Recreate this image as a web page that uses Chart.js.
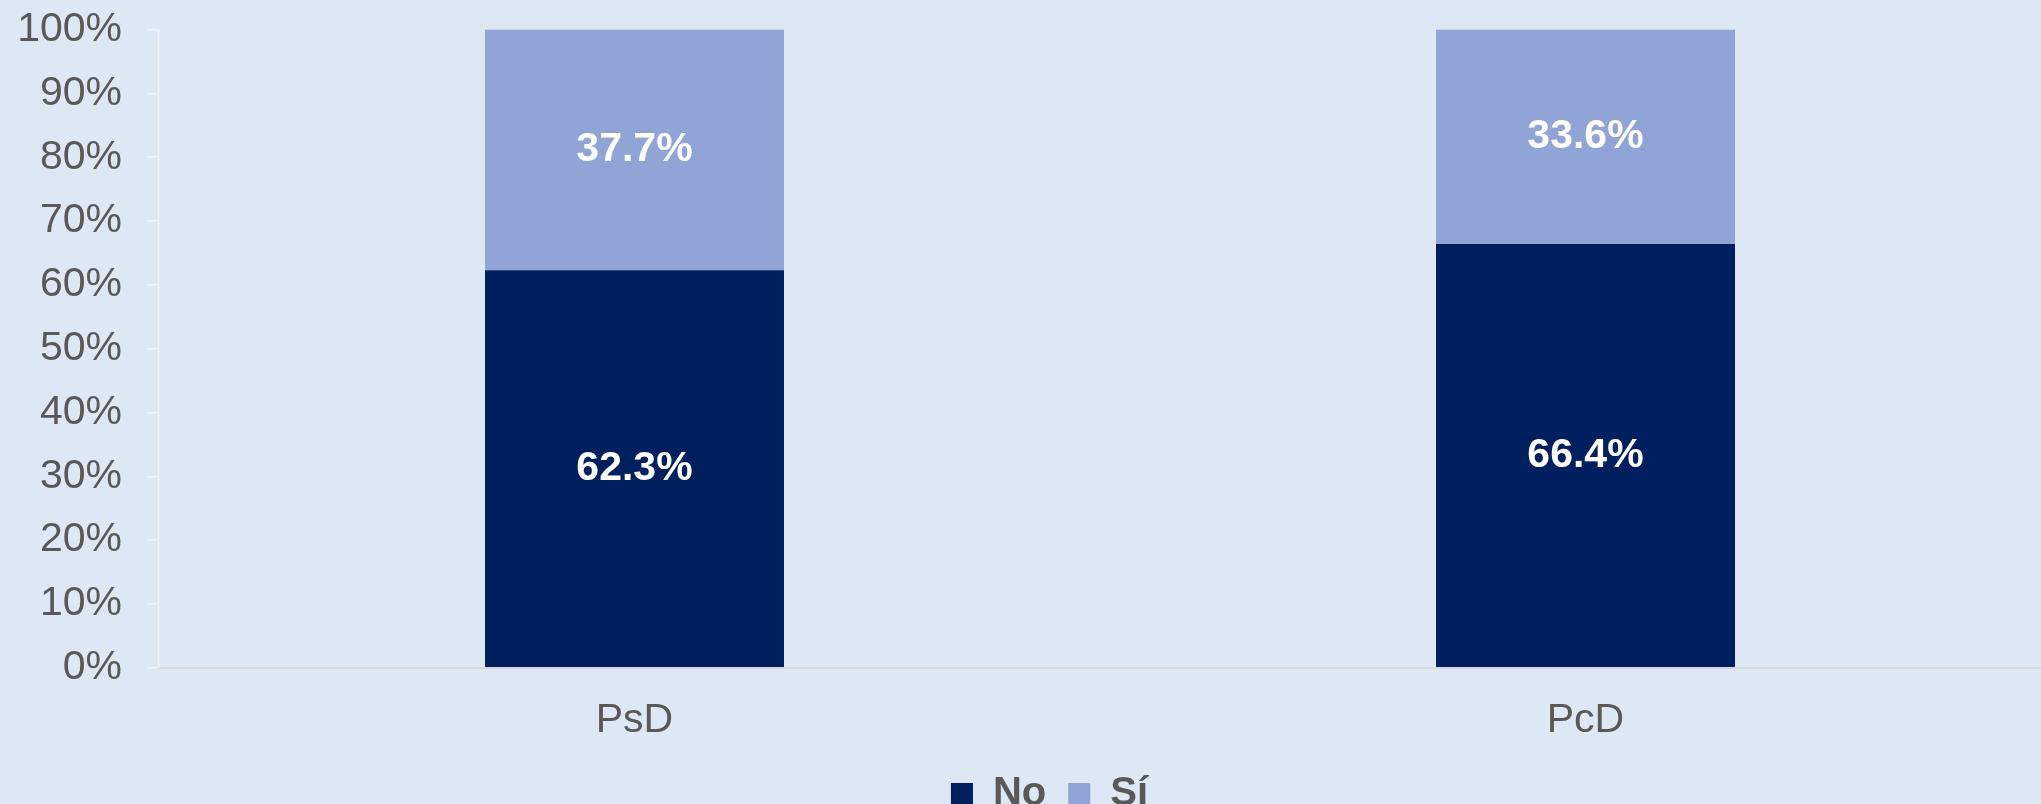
<!DOCTYPE html>
<html lang="es">
<head>
<meta charset="utf-8">
<title>PsD / PcD</title>
<script src="https://cdn.jsdelivr.net/npm/chart.js@4"></script>
<style>
  html, body { margin: 0; padding: 0; background: #dde8f4; overflow: hidden; }
  #wrap { position: relative; width: 2061px; height: 844px; margin-top: -20px; }
</style>
</head>
<body>
<div id="wrap"><canvas id="chart"></canvas></div>
<script>
const categories = ["PsD", "PcD"];
const seriesNo = [62.3, 66.4];
const seriesSi = [37.7, 33.6];
const yTicks = [0, 10, 20, 30, 40, 50, 60, 70, 80, 90, 100];

const FONT = "'Liberation Sans', Arial, sans-serif";

// writes the percentage in the middle of each stacked segment
const segmentLabels = {
  id: "segmentLabels",
  afterDatasetsDraw(chart) {
    const ctx = chart.ctx;
    ctx.save();
    ctx.fillStyle = "#ffffff";
    ctx.font = "bold 41px " + FONT;
    ctx.textAlign = "center";
    ctx.textBaseline = "middle";
    chart.data.datasets.forEach((ds, i) => {
      chart.getDatasetMeta(i).data.forEach((bar, j) => {
        const y = (bar.y + bar.base) / 2;
        ctx.fillText(ds.data[j].toFixed(1) + "%", bar.x, y);
      });
    });
    ctx.restore();
  }
};

// nudge the legend a little to the right of the canvas centre
const legendShift = {
  id: "legendShift",
  beforeDraw(chart) {
    const lg = chart.legend;
    if (lg && !lg._shifted) {
      lg.left += 19;
      lg.right += 19;
      lg._shifted = true;
    }
  },
  afterUpdate(chart) {
    if (chart.legend) chart.legend._shifted = false;
  }
};

new Chart(document.getElementById("chart"), {
  type: "bar",
  data: {
    labels: categories,
    datasets: [
      { label: "No", data: seriesNo, backgroundColor: "#001f5f", borderWidth: 0 },
      { label: "Sí", data: seriesSi, backgroundColor: "#90a4d5", borderWidth: 0 }
    ]
  },
  options: {
    responsive: true,
    maintainAspectRatio: false,
    animation: false,
    datasets: { bar: { barPercentage: 1, categoryPercentage: 0.3144 } },
    layout: { padding: { top: 4, right: 0, left: 0, bottom: 0 } },
    plugins: {
      legend: {
        position: "bottom",
        labels: {
          boxWidth: 22,
          boxHeight: 22,
          padding: 22,
          color: "#595959",
          font: { family: FONT, size: 40, weight: "bold" }
        }
      },
      tooltip: { enabled: false }
    },
    scales: {
      x: {
        stacked: true,
        afterFit(scale) { scale.height -= 21; },
        grid: { display: false, drawTicks: false },
        border: { display: true, color: "#d9d9d9", width: 2 },
        ticks: {
          color: "#595959",
          padding: 28,
          font: { family: FONT, size: 41 }
        }
      },
      y: {
        stacked: true,
        min: 0,
        max: 100,
        afterFit(scale) { scale.width = 159; },
        afterBuildTicks(scale) { scale.ticks = yTicks.map(v => ({ value: v })); },
        grid: {
          drawOnChartArea: false,
          drawTicks: true,
          tickLength: 12,
          color: "#f0f2f5",
          lineWidth: 1.5
        },
        border: { display: true, color: "#f0f2f5", width: 1.5 },
        ticks: {
          color: "#595959",
          padding: 25,
          font: { family: FONT, size: 41 },
          callback: v => v + "%"
        }
      }
    }
  },
  plugins: [segmentLabels, legendShift]
});
</script>
</body>
</html>
